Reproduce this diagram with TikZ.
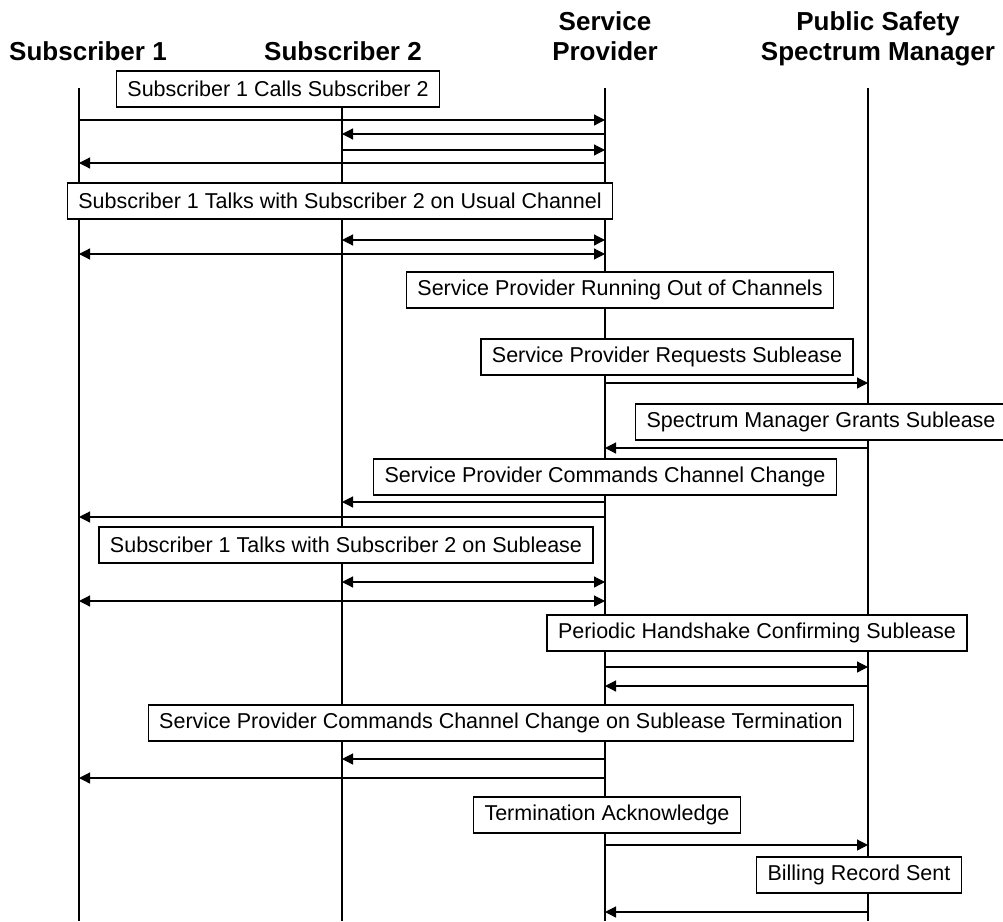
\documentclass[tikz,border=0pt]{standalone}
\usepackage{fontspec}
\setmainfont{Liberation Sans}
\usetikzlibrary{positioning,arrows.meta}

\tikzset{
  ator/.style={font=\fontsize{26}{30}\selectfont\bfseries, align=center, anchor=base},
  vida/.style={line width=1.2pt},
  evento/.style={draw, line width=1.2pt, fill=white, font=\fontsize{21.5}{24}\selectfont,
    inner xsep=11pt, minimum height=36pt},
  msg/.style={line width=1.2pt, -{Triangle[length=11pt,width=11pt]}},
  duplo/.style={line width=1.2pt, {Triangle[length=11pt,width=11pt]}-{Triangle[length=11pt,width=11pt]}},
}

\begin{document}
\begin{tikzpicture}[x=1pt,y=-1pt]
        \useasboundingbox (0,0) rectangle (1003,921);

        % Atores
        \node[ator] (sub1) at (88,60) {Subscriber 1};
        \node[ator] (sub2) at (343,60) {Subscriber 2};
        \node[ator] (prov) at (605,60) {Service\\Provider};
        \node[ator] (psm) at (878,60) {Public Safety\\Spectrum Manager};

        % Linhas de vida
        \coordinate (l1) at (79,88);
        \coordinate (l2) at (342,88);
        \coordinate (l3) at (605,88);
        \coordinate (l4) at (868,88);
        \foreach \l in {l1,l2,l3,l4}
            \draw[vida] (\l) -- (\l |- 0,921);

        % Eventos
        \node[evento] (chama) at (278,89) {Subscriber 1 Calls Subscriber 2};
        \node[evento] (usual) at (340,201) {Subscriber 1 Talks with Subscriber 2 on Usual Channel};
        \node[evento] (falta) at (620,290) {Service Provider Running Out of Channels};
        \node[evento] (pede) at (667,357) {Service Provider Requests Sublease};
        \node[evento] (concede) at (821,422) {Spectrum Manager Grants Sublease};
        \node[evento] (troca) at (605,477) {Service Provider Commands Channel Change};
        \node[evento] (fala) at (346,545) {Subscriber 1 Talks with Subscriber 2 on Sublease};
        \node[evento] (periodo) at (757,633) {Periodic Handshake Confirming Sublease};
        \node[evento] (fim) at (501,723) {Service Provider Commands Channel Change on Sublease Termination};
        \node[evento] (ack) at (607,815) {Termination Acknowledge};
        \node[evento] (conta) at (859,875) {Billing Record Sent};

        % Mensagens
        \foreach \de/\para/\y in {l1/l3/120, l3/l2/134, l2/l3/150, l3/l1/163,
                                  l3/l4/383, l4/l3/448, l3/l2/502, l3/l1/517,
                                  l3/l4/667, l4/l3/686, l3/l2/759, l3/l1/778,
                                  l3/l4/845, l4/l3/912}
            \draw[msg] (\de |- 0,\y) -- (\para |- 0,\y);

        % Conversa nos dois sentidos
        \foreach \de/\y in {l2/240, l1/254, l2/582, l1/601}
            \draw[duplo] (\de |- 0,\y) -- (l3 |- 0,\y);

    \end{tikzpicture}
\end{document}
